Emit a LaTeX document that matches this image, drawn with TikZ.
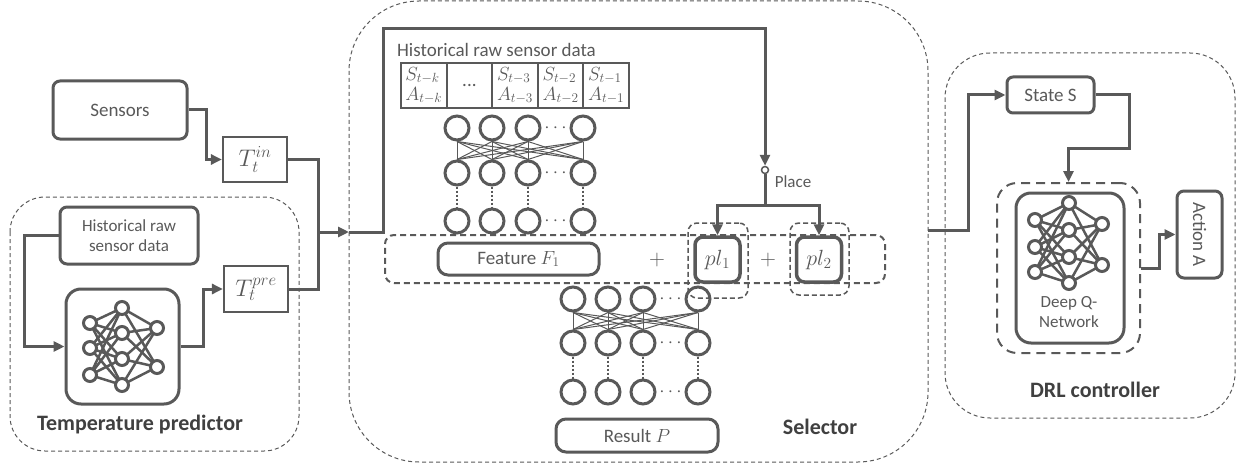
\RequirePackage{fix-cm}
\documentclass[tikz,border=0pt]{standalone}
\usepackage{fontspec}
\setmainfont{Carlito}
\usetikzlibrary{arrows.meta,positioning}
\definecolor{ink}{HTML}{595959}
\definecolor{inkdark}{HTML}{404040}

\begin{document}
\begin{tikzpicture}[x=1pt,y=-1pt,>={Triangle[length=11pt,width=10pt]},
                    color=ink,line width=3pt,
                    box/.style={draw,rounded corners=7pt,line width=3pt,inner sep=0pt,
                                font=\fontsize{19}{22}\selectfont},
                    sqbox/.style={draw,line width=2.2pt,inner sep=0pt,
                                  font=\fontsize{24}{26}\selectfont},
                    cell/.style={draw,line width=2pt,inner sep=1pt,align=left,
                                 minimum width=45.6pt,minimum height=45pt,
                                 font=\fontsize{19}{20}\selectfont},
                    panel/.style={draw,line width=1pt,dash pattern=on 4pt off 3pt},
                    group/.style={draw,line width=2pt,dash pattern=on 6pt off 4pt,
                                  rounded corners=9pt,inner sep=0pt},
                    neuron/.style={circle,draw,fill=white,line width=3pt,
                                   minimum size=24pt,inner sep=0pt},
                    dot node/.style={circle,draw,fill=white,line width=3pt,
                                     minimum size=13pt,inner sep=0pt},
                    wire/.style={line width=1pt},
                    web/.style={line width=2.5pt},
                    dotline/.style={line width=2.5pt,dash pattern=on 2pt off 2pt},
                    title/.style={font=\fontsize{22}{24}\selectfont\bfseries,text=inkdark},
                    small/.style={font=\fontsize{17}{20}\selectfont}]

  \useasboundingbox (0,0) rectangle (1244,468);

  % dashed panels
  \draw[panel,rounded corners=35pt] (10,197) rectangle (299,451);
  \draw[panel,rounded corners=70pt] (349,1) rectangle (928,462);
  \draw[panel,rounded corners=45pt] (945,53) rectangle (1235,418);

  % temperature predictor
  \node[box,minimum width=134pt,minimum height=58pt] (sensors) at (120,110) {Sensors};
  \node[sqbox,minimum width=64pt,minimum height=45pt] (tin) at (255,159.5) {$T_t^{in}$};
  \node[sqbox,minimum width=64pt,minimum height=46pt] (tpre) at (256,289) {$T_t^{pre}$};
  \node[box,small,align=center,minimum width=138pt,minimum height=57pt] (hist) at (129,235.5)
       {Historical raw\\sensor data};
  \node[box,rounded corners=15pt,minimum width=113pt,minimum height=115pt] (tnet) at (122.5,346.5) {};
  \node[title] (tptitle) at (140,425) {Temperature predictor};

  \foreach \n/\x/\y in {a1/90/323,a2/90/348,a3/90/375}
    \coordinate (t\n) at (\x,\y);
  \foreach \n/\x/\y in {b1/122/308,b2/122/333,b3/122/359,b4/122/385}
    \coordinate (t\n) at (\x,\y);
  \foreach \n/\x/\y in {c1/157/328,c2/157/367}
    \coordinate (t\n) at (\x,\y);
  \foreach \i in {1,2,3}
    \foreach \j in {1,2,3,4}
      \draw[web] (ta\i) -- (tb\j);
  \foreach \i in {1,2,3,4}
    \foreach \j in {1,2}
      \draw[web] (tb\i) -- (tc\j);
  \foreach \n in {a1,a2,a3,b1,b2,b3,b4,c1,c2}
    \node[dot node] at (t\n) {};

  \coordinate (join) at (318,232);
  \coordinate (selin) at (349,232);

  \draw[->] (sensors.east) -- ++(18,0) |- (tin.west);
  \draw (tin.east) -| (join);
  \draw (tpre.east) -| (join);
  \draw[->] (hist.west) -- ++(-34,0) |- (tnet.west);
  \draw[->] (tnet.east) -- ++(23,0) |- (tpre.west);
  \draw[->] (join) -- (selin);

  % selector
  \node[font=\fontsize{19}{22}\selectfont] (histlbl) at (496.5,50) {Historical raw sensor data};
  \node[cell] (h1) at (423.8,85.5) {$S_{t-k}$\\$A_{t-k}$};
  \node[cell] (h2) at (469.4,85.5) {...};
  \node[cell] (h3) at (515.0,85.5) {$S_{t-3}$\\$A_{t-3}$};
  \node[cell] (h4) at (560.6,85.5) {$S_{t-2}$\\$A_{t-2}$};
  \node[cell] (h5) at (606.2,85.5) {$S_{t-1}$\\$A_{t-1}$};

  \foreach \r/\y in {1/128,2/173,3/221}
    \foreach \c/\x in {1/457,2/492,3/528,4/583}
      \node[neuron] (u\r\c) at (\x,\y) {};
  \foreach \r/\y in {1/128,2/173,3/221}
    \node[font=\fontsize{19}{22}\selectfont] at (555.5,\y) {$\cdots$};
  \foreach \i in {1,2,3,4}
    \foreach \j in {1,2,3,4}
      \draw[wire] (u1\i.south) -- (u2\j.north);
  \foreach \i in {1,2,3,4}
    \draw[dotline] (u2\i.south) -- (u3\i.north);

  \node[group,minimum width=500pt,minimum height=48pt] (frame) at (635,259) {};
  \node[box,rounded corners=10pt,minimum width=161pt,minimum height=32pt] (feature) at (518.5,259)
       {Feature $F_1$};
  \node[font=\fontsize{22}{24}\selectfont] (plus1) at (657,260) {$+$};
  \node[font=\fontsize{22}{24}\selectfont] (plus2) at (768,260) {$+$};
  \node[box,line width=3.5pt,rounded corners=8pt,minimum width=45pt,minimum height=45pt,
        font=\fontsize{22}{24}\selectfont] (pl1) at (717.5,259.5) {$pl_1$};
  \node[box,line width=3.5pt,rounded corners=8pt,minimum width=45pt,minimum height=45pt,
        font=\fontsize{22}{24}\selectfont] (pl2) at (819,259.5) {$pl_2$};
  \node[group,line width=1.5pt,dash pattern=on 5pt off 3pt,minimum width=60pt,minimum height=75pt]
       (pl1g) at (718,260.5) {};
  \node[group,line width=1.5pt,dash pattern=on 5pt off 3pt,minimum width=59pt,minimum height=72pt]
       (pl2g) at (819.5,259) {};

  \foreach \r/\y in {1/299,2/343,3/392}
    \foreach \c/\x in {1/573,2/608,3/643,4/698}
      \node[neuron,fill=none] (v\r\c) at (\x,\y) {};
  \foreach \r/\y in {1/299,2/343,3/392}
    \node[font=\fontsize{19}{22}\selectfont] at (670.5,\y) {$\cdots$};
  \foreach \i in {1,2,3,4}
    \foreach \j in {1,2,3,4}
      \draw[wire] (v1\i.south) -- (v2\j.north);
  \foreach \i in {1,2,3,4}
    \draw[dotline] (v2\i.south) -- (v3\i.north);

  \node[box,rounded corners=10pt,minimum width=162pt,minimum height=33pt] (result) at (637,435.5)
       {Result $P$};
  \node[title] (seltitle) at (820,427) {Selector};

  \node[circle,draw,fill=white,line width=1.5pt,minimum size=7pt,inner sep=0pt] (place) at (765,170) {};
  \node[small] (placelbl) at (793,182) {Place};
  \coordinate (split) at (765,205);

  \draw[->] (selin) -| (383,29) -| (place.north);
  \draw (place.south) -- (split);
  \draw[->] (split) -| (pl1.north);
  \draw[->] (split) -| (pl2.north);

  % DRL controller
  \coordinate (selout) at (928,230);
  \node[box,rounded corners=6pt,minimum width=87pt,minimum height=36pt] (state) at (1050.5,95) {State S};
  \node[group,dash pattern=on 9pt off 6pt,rounded corners=20pt,minimum width=143pt,minimum height=170pt]
       (dqng) at (1068.5,268) {};
  \node[box,rounded corners=15pt,minimum width=108pt,minimum height=150pt] (dqn) at (1070,268) {};
  \node[small,align=center] (dqnlbl) at (1069,312) {Deep Q-\\Network};
  \node[box,minimum width=45pt,minimum height=87pt] (action) at (1199.5,234.5)
       {\rotatebox{-90}{Action A}};
  \node[title] (drltitle) at (1095,390) {DRL controller};

  \foreach \n/\x/\y in {a1/1035/220,a2/1035/247,a3/1035/272}
    \coordinate (q\n) at (\x,\y);
  \foreach \n/\x/\y in {b1/1069/203,b2/1069/230,b3/1069/257,b4/1069/283}
    \coordinate (q\n) at (\x,\y);
  \foreach \n/\x/\y in {c1/1102/224,c2/1102/265}
    \coordinate (q\n) at (\x,\y);
  \foreach \i in {1,2,3}
    \foreach \j in {1,2,3,4}
      \draw[web] (qa\i) -- (qb\j);
  \foreach \i in {1,2,3,4}
    \foreach \j in {1,2}
      \draw[web] (qb\i) -- (qc\j);
  \foreach \n in {a1,a2,a3,b1,b2,b3,b4,c1,c2}
    \node[dot node] at (q\n) {};

  \draw[->] (selout) -- ++(40,0) |- (state.west);
  \draw[->] (state.east) -| (1129,148) -| (dqng.north);
  \draw[->] (dqng.east) -- ++(18,0) |- (action.west);

\end{tikzpicture}
\end{document}
